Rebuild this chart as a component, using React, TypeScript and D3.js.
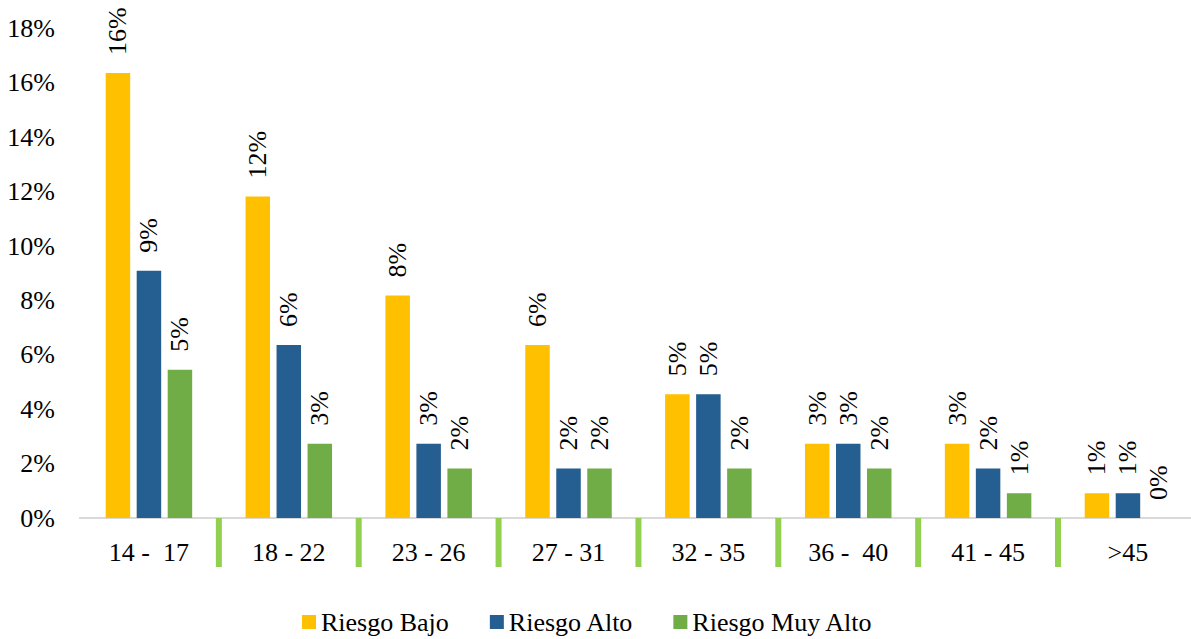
import React, { useRef, useEffect } from 'react';
import * as d3 from 'd3';

const categories = ['14 -  17', '18 - 22', '23 - 26', '27 - 31', '32 - 35', '36 -  40', '41 - 45', '>45'];
const seriesNames = ['Riesgo Bajo', 'Riesgo Alto', 'Riesgo Muy Alto'];
const seriesColors = ['#FFC000', '#255E91', '#70AD47'];

// percent values per age group
const riesgoBajo = [16.36, 11.82, 8.18, 6.36, 4.55, 2.73, 2.73, 0.91];
const riesgoAlto = [9.09, 6.36, 2.73, 1.82, 4.55, 2.73, 1.82, 0.91];
const riesgoMuyAlto = [5.45, 2.73, 1.82, 1.82, 1.82, 1.82, 0.91, 0];

const yTicks = [0, 2, 4, 6, 8, 10, 12, 14, 16, 18];

const FONT = 'Liberation Serif, serif';

const App: React.FC = () => {
  const svgRef = useRef<SVGSVGElement>(null);

  useEffect(() => {
    if (!svgRef.current) return;
    const svg = d3.select(svgRef.current);
    svg.selectAll('*').remove();

    const width = 1191;
    const height = 639;
    const margin = { left: 79, top: 28, bottom: 121 };
    const bandStep = 139.86;

    const allSeries = [riesgoBajo, riesgoAlto, riesgoMuyAlto];

    const x = d3.scaleBand<string>()
      .domain(categories)
      .range([margin.left, margin.left + bandStep * categories.length])
      .padding(0);

    const groupWidth = 86.5;
    const xs = d3.scaleBand<string>()
      .domain(seriesNames)
      .range([0, groupWidth])
      .paddingInner(0.21);

    const y = d3.scaleLinear()
      .domain([0, 18])
      .range([height - margin.bottom, height - margin.bottom - 27.2 * 18]);

    const y0 = y(0);

    // y tick labels
    svg.append('g')
      .selectAll('text')
      .data(yTicks)
      .enter()
      .append('text')
      .attr('x', 55)
      .attr('y', d => y(d))
      .attr('text-anchor', 'end')
      .attr('dominant-baseline', 'central')
      .attr('font-family', FONT)
      .attr('font-size', 26)
      .attr('fill', '#000')
      .text(d => `${d}%`);

    // axis line
    svg.append('line')
      .attr('x1', margin.left)
      .attr('x2', width)
      .attr('y1', y0)
      .attr('y2', y0)
      .attr('stroke', '#D9D9D9')
      .attr('stroke-width', 2);

    // bars + labels
    const offset = (x.bandwidth() - groupWidth) / 2;
    allSeries.forEach((vals, si) => {
      const name = seriesNames[si];
      const g = svg.append('g');
      g.selectAll('rect')
        .data(vals)
        .enter()
        .append('rect')
        .attr('x', (_, i) => (x(categories[i]) || 0) + offset + (xs(name) || 0))
        .attr('y', d => y(d))
        .attr('width', xs.bandwidth())
        .attr('height', d => y0 - y(d))
        .attr('fill', seriesColors[si]);

      g.selectAll('text')
        .data(vals)
        .enter()
        .append('text')
        .attr('transform', (d, i) => {
          const cx = (x(categories[i]) || 0) + offset + (xs(name) || 0) + xs.bandwidth() / 2;
          return `translate(${cx},${y(d) - 18}) rotate(-90)`;
        })
        .attr('text-anchor', 'start')
        .attr('dominant-baseline', 'central')
        .attr('font-family', FONT)
        .attr('font-size', 26)
        .attr('fill', '#000')
        .text(d => `${Math.round(d)}%`);
    });

    // category separators (green ticks)
    svg.append('g')
      .selectAll('rect')
      .data(categories.slice(1))
      .enter()
      .append('rect')
      .attr('x', d => (x(d) || 0) - 3)
      .attr('y', y0)
      .attr('width', 6)
      .attr('height', 49)
      .attr('fill', '#92D050');

    // category labels
    svg.append('g')
      .selectAll('text')
      .data(categories)
      .enter()
      .append('text')
      .attr('x', d => (x(d) || 0) + x.bandwidth() / 2)
      .attr('y', 552)
      .attr('text-anchor', 'middle')
      .attr('dominant-baseline', 'central')
      .style('white-space', 'pre')
      .attr('font-family', FONT)
      .attr('font-size', 26)
      .attr('fill', '#000')
      .text(d => d);

    // legend
    const legend = svg.append('g');
    let lx = 302;
    const ly = 622;
    seriesNames.forEach((name, i) => {
      legend.append('rect')
        .attr('x', lx)
        .attr('y', ly - 7)
        .attr('width', 14)
        .attr('height', 14)
        .attr('fill', seriesColors[i]);
      const t = legend.append('text')
        .attr('x', lx + 19)
        .attr('y', ly)
        .attr('dominant-baseline', 'central')
        .attr('font-family', FONT)
        .attr('font-size', 26)
        .attr('fill', '#000')
        .text(name);
      const w = (t.node() as SVGTextElement).getComputedTextLength();
      lx = lx + 19 + w + 41;
    });
  }, []);

  return (
    <svg
      ref={svgRef}
      width={1191}
      height={639}
      style={{ position: 'absolute', left: 0, top: 0, background: '#fff' }}
    />
  );
};

export default App;
